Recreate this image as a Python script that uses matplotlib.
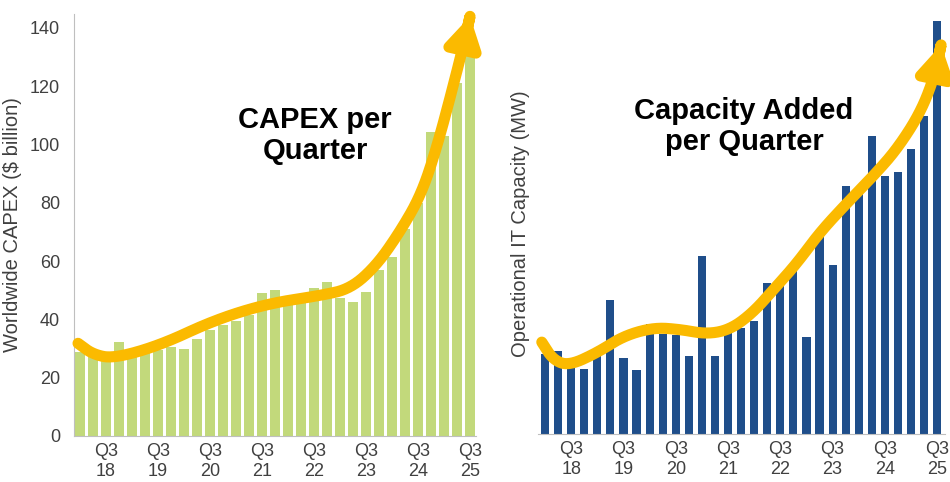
import numpy as np
import matplotlib
matplotlib.use("Agg")
import matplotlib.pyplot as plt
from matplotlib.patches import FancyArrowPatch
from matplotlib.path import Path

plt.rcParams["font.family"] = ["Liberation Sans", "DejaVu Sans"]

# quarters Q1 18 .. Q3 25
quarters = [f"Q{q} {y}" for y in range(18, 26) for q in range(1, 5)][:31]
tick_pos = [i for i, q in enumerate(quarters) if q.startswith("Q3")]
tick_labels = [q.replace(" ", "\n") for q in quarters if q.startswith("Q3")]

# worldwide capex ($ billion)
capex = [28.7, 27.5, 26.5, 32.4, 27.5, 28.5, 29.5, 30.5, 29.7, 33.2,
         36.5, 38.1, 39.5, 41.5, 49.2, 50.2, 45.0, 46.0, 50.9, 52.9,
         47.2, 46.1, 49.5, 56.9, 61.5, 71.0, 80.0, 104.2, 103.0, 121.0,
         136.0]

# capacity added per quarter (MW, relative)
capacity = [27.4, 28.5, 24.5, 22.2, 27.4, 45.8, 26.2, 22.0, 37.6, 34.2,
            33.9, 26.7, 61.0, 26.7, 34.8, 36.5, 38.7, 51.8, 52.5, 56.9,
            33.2, 67.8, 57.9, 85.2, 84.6, 102.3, 88.4, 89.9, 97.6, 108.9,
            141.6]

# hand-drawn trend arrows (data coords)
capex_trend_x = [-0.15, 1.0, 2.6, 6.2, 10.3, 14.4, 18.5, 20.8, 22.8, 24.6,
                 26.2, 27.4, 28.7, 29.6, 30.0]
capex_trend_y = [31.8, 28.0, 26.6, 31.2, 39.7, 45.4, 48.2, 50.5, 58.5, 70.0,
                 82.4, 98.3, 120.0, 136.0, 144.0]
cap_trend_x = [-0.25, 0.6, 1.8, 4.0, 6.0, 8.3, 10.3, 12.4, 14.2, 15.9, 17.5,
               19.3, 21.0, 23.1, 25.1, 26.9, 28.7, 29.8, 30.3]
cap_trend_y = [31.5, 25.5, 23.4, 27.9, 33.6, 36.5, 35.9, 34.2, 35.9, 41.6,
               49.6, 58.7, 69.0, 79.2, 88.4, 97.5, 110.0, 122.6, 133.4]

GREEN = "#C2D97B"
BLUE = "#1F4E8A"
GOLD = "#FBBA00"
GRAY = "#BFBFBF"
TXT = "#404040"


def smooth(xs, ys, n=5):
    # chaikin corner cutting, ends kept
    p = np.column_stack([xs, ys]).astype(float)
    for _ in range(n):
        q = 0.75 * p[:-1] + 0.25 * p[1:]
        r = 0.25 * p[:-1] + 0.75 * p[1:]
        mid = np.empty((2 * len(q), 2))
        mid[0::2] = q
        mid[1::2] = r
        p = np.vstack([p[0], mid, p[-1]])
    return p


def trend_arrow(ax, xs, ys):
    verts = smooth(xs, ys)
    arrow = FancyArrowPatch(path=Path(verts),
                            arrowstyle="-|>,head_length=0.85,head_width=0.5",
                            mutation_scale=20, color=GOLD, lw=8,
                            capstyle="round", joinstyle="round",
                            clip_on=False, zorder=5)
    ax.add_patch(arrow)


fig = plt.figure(figsize=(9.5, 4.82), dpi=100)

# left: capex
ax1 = fig.add_axes([74 / 950, 46 / 482, 402 / 950, 422 / 482])
x = np.arange(len(capex))
ax1.bar(x, capex, width=0.7, color=GREEN, zorder=2)
ax1.set_xlim(-0.46, 30.46)
ax1.set_ylim(0, 144.8)
ax1.set_yticks(range(0, 141, 20))
ax1.set_xticks(tick_pos)
ax1.set_xticklabels(tick_labels, linespacing=1.2)
ax1.tick_params(length=0, labelsize=13, labelcolor=TXT, pad=10)
ax1.tick_params(axis="x", pad=5)
for s in ["top", "right"]:
    ax1.spines[s].set_visible(False)
for s in ["left", "bottom"]:
    ax1.spines[s].set_color(GRAY)
ax1.set_ylabel("Worldwide CAPEX ($ billion)", fontsize=14.5, color=TXT,
               labelpad=6)
ax1.text(0.6, 0.712, "CAPEX per\nQuarter", transform=ax1.transAxes,
         ha="center", va="center", fontsize=21, fontweight="bold",
         linespacing=1.1)
trend_arrow(ax1, capex_trend_x, capex_trend_y)

# right: capacity
ax2 = fig.add_axes([538 / 950, 48 / 482, 407 / 950, 420 / 482])
x = np.arange(len(capacity))
ax2.bar(x, capacity, width=0.62, color=BLUE, zorder=2)
ax2.set_xlim(-0.54, 30.6)
ax2.set_ylim(0, 144)
ax2.set_yticks([])
ax2.set_xticks(tick_pos)
ax2.set_xticklabels(tick_labels, linespacing=1.2)
ax2.tick_params(length=0, labelsize=13, labelcolor=TXT, pad=5)
for s in ["top", "right", "left"]:
    ax2.spines[s].set_visible(False)
ax2.spines["bottom"].set_color(GRAY)
ax2.set_ylabel("Operational IT Capacity (MW)", fontsize=14.5, color=TXT,
               labelpad=6)
ax2.text(0.506, 0.732, "Capacity Added\nper Quarter", transform=ax2.transAxes,
         ha="center", va="center", fontsize=21, fontweight="bold",
         linespacing=1.1)
trend_arrow(ax2, cap_trend_x, cap_trend_y)

fig.savefig("out.png", dpi=100)
